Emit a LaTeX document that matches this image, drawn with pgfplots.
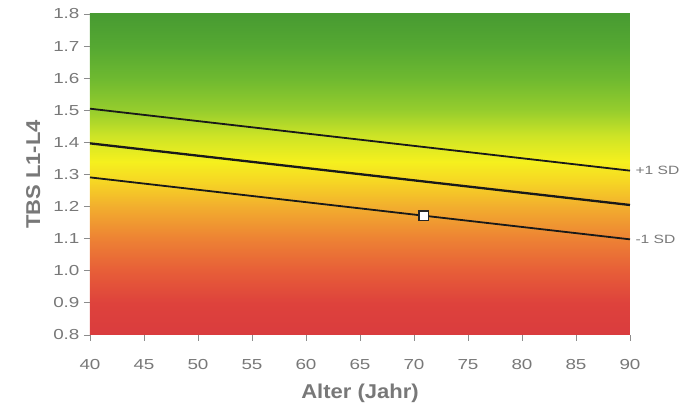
\documentclass[border=0pt]{standalone}
\usepackage{pgfplots}
\pgfplotsset{compat=1.18}
\usepackage{fontspec}
\setmainfont{Liberation Sans}
\newfontfamily\widefont[FakeStretch=1.3]{Liberation Sans}
\newfontfamily\labfont[FakeStretch=1.1]{Liberation Sans}
\definecolor{txt}{RGB}{120,120,120}
\definecolor{tk}{RGB}{140,140,140}
\pgfdeclareverticalshading{tbsbg}{100bp}{
  color(0bp)=(rgb,255:red,218;green,60;blue,62);
  color(25bp)=(rgb,255:red,218;green,60;blue,62);
  color(30bp)=(rgb,255:red,222;green,66;blue,60);
  color(35bp)=(rgb,255:red,231;green,94;blue,56);
  color(40bp)=(rgb,255:red,237;green,130;blue,52);
  color(45bp)=(rgb,255:red,242;green,174;blue,46);
  color(49bp)=(rgb,255:red,246;green,215;blue,36);
  color(52bp)=(rgb,255:red,245;green,240;blue,30);
  color(56bp)=(rgb,255:red,205;green,228;blue,38);
  color(60bp)=(rgb,255:red,150;green,205;blue,45);
  color(65bp)=(rgb,255:red,110;green,185;blue,48);
  color(70bp)=(rgb,255:red,85;green,168;blue,50);
  color(75bp)=(rgb,255:red,72;green,155;blue,50);
  color(100bp)=(rgb,255:red,72;green,155;blue,50)}
\begin{document}
\begin{tikzpicture}
\path[use as bounding box] (-90pt,-74pt) rectangle (607pt,335pt);
\begin{axis}[
  scale only axis, width=540pt, height=321pt,
  xmin=40, xmax=90, ymin=0.8, ymax=1.8,
  xtick={40,45,...,90},
  ytick={0.8,0.9,...,1.8},
  yticklabel style={/pgf/number format/fixed, /pgf/number format/fixed zerofill, /pgf/number format/precision=1, xshift=-1pt},
  /pgf/number format/assume math mode=true,
  tick align=outside,
  tick style={tk, line width=0.9pt},
  major tick length=6pt,
  xtick pos=bottom, ytick pos=left,
  axis line style={draw=none},
  ticklabel style={txt, font=\widefont\fontsize{14.5}{14.5}\selectfont},
  xticklabel style={yshift=-15pt},
  xlabel={\bfseries Alter (Jahr)},
  ylabel={\bfseries TBS L1-L4},
  label style={txt, font=\labfont\fontsize{20}{20}\selectfont},
  xlabel style={yshift=-7pt},
  ylabel style={yshift=6pt},
  axis on top,
  clip=false,
]
\shade[shading=tbsbg] (axis cs:40,0.8) rectangle (axis cs:90,1.8);
\addplot[black!90, line width=1.8pt] coordinates {(40,1.505) (90,1.312)};
\addplot[black!90, line width=2.3pt] coordinates {(40,1.397) (90,1.205)};
\addplot[black!90, line width=1.8pt] coordinates {(40,1.291) (90,1.098)};
\addplot[only marks, mark=square*, mark size=4.8pt, mark options={fill=white, draw=black!85, line width=1.6pt}] coordinates {(70.9,1.172)};
\node[anchor=west, txt, font=\widefont\fontsize{12}{12}\selectfont, xshift=2pt] at (axis cs:90,1.312) {+1 SD};
\node[anchor=west, txt, font=\widefont\fontsize{12}{12}\selectfont, xshift=2pt] at (axis cs:90,1.098) {-1 SD};
\end{axis}
\end{tikzpicture}
\end{document}
